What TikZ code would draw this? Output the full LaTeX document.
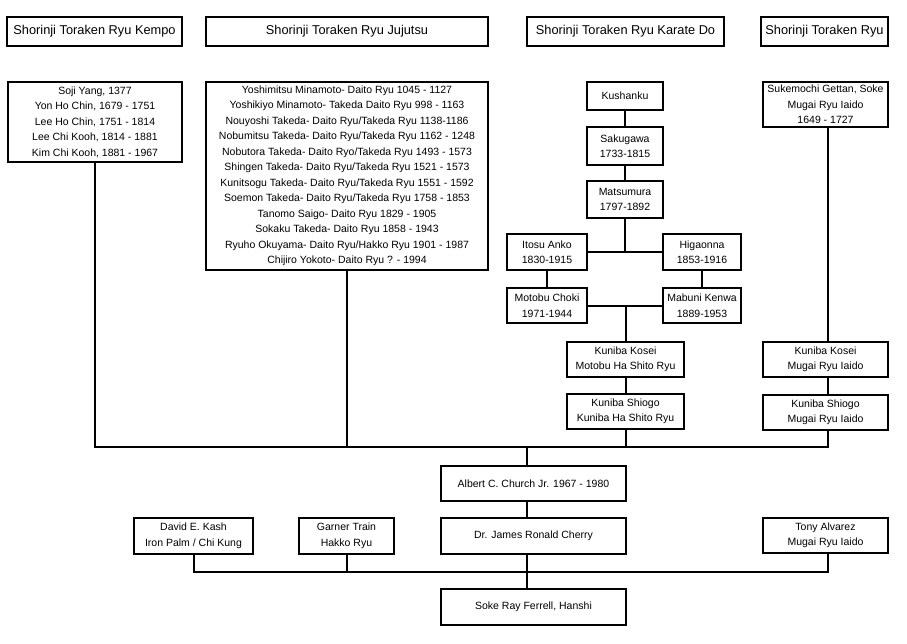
\documentclass[tikz,border=0pt]{standalone}
\usepackage{fontspec}
\setmainfont{Liberation Sans}
\usepackage{tikz}
\usetikzlibrary{positioning}

\tikzset{
  lineage/.style={draw, line width=1.9pt, align=center, inner sep=0pt,
    font=\fontsize{10.5}{15.5}\selectfont},
  header/.style={lineage, line width=2.5pt, minimum height=29pt,
    font=\fontsize{12.8}{15}\selectfont},
  link/.style={line width=2pt}
}

\begin{document}
\begin{tikzpicture}[x=1pt, y=-1pt]
  \fill[white] (0,0) rectangle (907,643);
  \useasboundingbox (0,0) rectangle (907,643);
  % styles
  \node[header, minimum width=175pt] (hkempo) at (94.5,31.5) {Shorinji Toraken Ryu Kempo};
  \node[header, minimum width=282pt] (hjuju) at (347,31.5) {Shorinji Toraken Ryu Jujutsu};
  \node[header, minimum width=197pt] (hkarate) at (625.5,31.5) {Shorinji Toraken Ryu Karate Do};
  \node[header, minimum width=127pt] (hryu) at (824.5,31.5) {Shorinji Toraken Ryu};

  % kempo and jujutsu lines
  \node[lineage, minimum width=174pt, minimum height=80pt] (kempo) at (95,122)
    {Soji Yang, 1377\\Yon Ho Chin, 1679 - 1751\\Lee Ho Chin, 1751 - 1814\\Lee Chi Kooh, 1814 - 1881\\Kim Chi Kooh, 1881 - 1967};
  \node[lineage, minimum width=282pt, minimum height=188pt] (juju) at (347,176)
    {Yoshimitsu Minamoto- Daito Ryu 1045 - 1127\\
     Yoshikiyo Minamoto- Takeda Daito Ryu 998 - 1163\\
     Nouyoshi Takeda- Daito Ryu/Takeda Ryu 1138-1186\\
     Nobumitsu Takeda- Daito Ryu/Takeda Ryu 1162 - 1248\\
     Nobutora Takeda- Daito Ryo/Takeda Ryu 1493 - 1573\\
     Shingen Takeda- Daito Ryu/Takeda Ryu 1521 - 1573\\
     Kunitsogu Takeda- Daito Ryu/Takeda Ryu 1551 - 1592\\
     Soemon Takeda- Daito Ryu/Takeda Ryu 1758 - 1853\\
     Tanomo Saigo- Daito Ryu 1829 - 1905\\
     Sokaku Takeda- Daito Ryu 1858 - 1943\\
     Ryuho Okuyama- Daito Ryu/Hakko Ryu 1901 - 1987\\
     Chijiro Yokoto- Daito Ryu ? - 1994};

  % karate do
  \node[lineage, minimum width=76pt, minimum height=28pt] (kushanku) at (625,96) {Kushanku};
  \node[lineage, minimum width=76pt, minimum height=38pt] (sakugawa) at (625,146) {Sakugawa\\1733-1815};
  \node[lineage, minimum width=76pt, minimum height=37pt] (matsumura) at (625,199.5) {Matsumura\\1797-1892};
  \node[lineage, minimum width=80pt, minimum height=36pt] (itosu) at (547,252) {Itosu Anko\\1830-1915};
  \node[lineage, minimum width=78pt, minimum height=36pt] (higaonna) at (702,252) {Higaonna\\1853-1916};
  \node[lineage, minimum width=80pt, minimum height=35pt] (motobu) at (547,305.5) {Motobu Choki\\1971-1944};
  \node[lineage, minimum width=78pt, minimum height=35pt] (mabuni) at (702,305.5) {Mabuni Kenwa\\1889-1953};
  \node[lineage, minimum width=117pt, minimum height=35pt] (kosei) at (625.5,359.5) {Kuniba Kosei\\Motobu Ha Shito Ryu};
  \node[lineage, minimum width=117pt, minimum height=35pt] (shiogo) at (625.5,411.5) {Kuniba Shiogo\\Kuniba Ha Shito Ryu};

  % iaido
  \node[lineage, minimum width=125pt, minimum height=45pt] (sukemochi) at (825.5,104.5) {Sukemochi Gettan, Soke\\Mugai Ryu Iaido\\1649 - 1727};
  \node[lineage, minimum width=125pt, minimum height=35pt] (koseiiai) at (825.5,359.5) {Kuniba Kosei\\Mugai Ryu Iaido};
  \node[lineage, minimum width=125pt, minimum height=35pt] (shiogoiai) at (825.5,412.5) {Kuniba Shiogo\\Mugai Ryu Iaido};

  % bottom
  \coordinate (bus) at (527,447);
  \coordinate (lowbus) at (527,572);
  \coordinate (iaido) at (828,447);
  \node[lineage, minimum width=185pt, minimum height=35pt] (albert) at (533.5,483.5) {Albert C. Church Jr. 1967 - 1980};
  \node[lineage, minimum width=185pt, minimum height=36pt] (cherry) at (533.5,536) {Dr. James Ronald Cherry};
  \node[lineage, minimum width=119pt, minimum height=36pt] (kash) at (193.5,536) {David E. Kash\\Iron Palm / Chi Kung};
  \node[lineage, minimum width=95pt, minimum height=36pt] (garner) at (346.5,536) {Garner Train\\Hakko Ryu};
  \node[lineage, minimum width=125pt, minimum height=35pt] (tony) at (825.5,535.5) {Tony Alvarez\\Mugai Ryu Iaido};
  \node[lineage, minimum width=185pt, minimum height=36pt] (ferrell) at (533.5,607) {Soke Ray Ferrell, Hanshi};

  % connectors
  \draw[link] (kushanku) -- (sakugawa) -- (matsumura);
  \draw[link] (matsumura.south) -- (matsumura.south |- itosu.east);
  \draw[link] (itosu.east) -- (higaonna.west);
  \draw[link] (itosu) -- (motobu);
  \draw[link] (higaonna) -- (mabuni);
  \draw[link] (motobu.east) -- (mabuni.west);
  \draw[link] (kosei.north |- motobu.east) -- (kosei.north);
  \draw[link] (kosei) -- (shiogo);
  \draw[link] (iaido |- sukemochi.south) -- (iaido |- koseiiai.north);
  \draw[link] (iaido |- koseiiai.south) -- (iaido |- shiogoiai.north);

  \draw[link] (kempo.south) |- (iaido) -- (iaido |- shiogoiai.south);
  \draw[link] (juju.south) -- (juju.south |- bus);
  \draw[link] (shiogo.south) -- (shiogo.south |- bus);
  \draw[link] (bus) -- (bus |- albert.north);
  \draw[link] (bus |- albert.south) -- (bus |- cherry.north);
  \draw[link] (bus |- cherry.south) -- (bus |- ferrell.north);
  \draw[link] (kash.south) |- (iaido |- lowbus) -- (iaido |- tony.south);
  \draw[link] (garner.south) -- (garner.south |- lowbus);
\end{tikzpicture}
\end{document}
